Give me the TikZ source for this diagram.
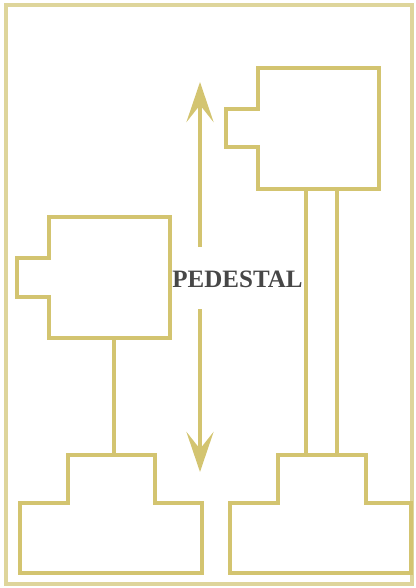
\documentclass[tikz,border=0pt]{standalone}
\usepackage{fontspec}
\setmainfont{Liberation Serif}
\usetikzlibrary{arrows.meta}

\definecolor{gold}{RGB}{211,196,112}
\definecolor{framegold}{RGB}{222,213,155}

\begin{document}
\begin{tikzpicture}[
  x=1pt,y=-1pt,
  part/.style={draw=gold,line width=4.8pt,line join=miter},
  outerframe/.style={draw=framegold,line width=3.2pt},
  arr/.style={-{Stealth[length=40pt,width=27pt,inset=17pt]},draw=gold,line width=4.8pt},
  lbl/.style={font=\bfseries\fontsize{25}{25}\selectfont,text=black!72,inner sep=0pt},
]
\useasboundingbox (0,0) rectangle (415,588);
\draw[outerframe] (6,5) rectangle (412,584);

% left machine: head, column, base
\coordinate (lhead) at (49,217);
\draw[part] (lhead) -- ++(121,0) -- ++(0,121) -- ++(-121,0) -- ++(0,-41)
            -- ++(-32,0) -- ++(0,-39) -- ++(32,0) -- cycle;
\coordinate (lcoltop) at (114,338);
\coordinate (lcolbot) at (114,455);
\draw[part] (lcoltop) -- (lcolbot);
\coordinate (lbase) at (20,573);
\draw[part] (lbase) -- ++(0,-70) -- ++(48,0) -- ++(0,-48) -- ++(87,0) -- ++(0,48)
            -- ++(47,0) -- ++(0,70) -- cycle;

% right machine: raised head on a double column
\coordinate (rhead) at (258,68);
\draw[part] (rhead) -- ++(121,0) -- ++(0,121) -- ++(-121,0) -- ++(0,-42)
            -- ++(-32,0) -- ++(0,-38) -- ++(32,0) -- cycle;
\coordinate (rcolAtop) at (306,189);
\coordinate (rcolAbot) at (306,455);
\coordinate (rcolBtop) at (337,189);
\coordinate (rcolBbot) at (337,455);
\draw[part] (rcolAtop) -- (rcolAbot);
\draw[part] (rcolBtop) -- (rcolBbot);
\coordinate (rbase) at (230,573);
\draw[part] (rbase) -- ++(0,-70) -- ++(48,0) -- ++(0,-48) -- ++(88,0) -- ++(0,48)
            -- ++(45,0) -- ++(0,70) -- cycle;

% height difference
\node[lbl] (pedestal) at (237.5,279.5) {PEDESTAL};
\coordinate (uptip) at (200,82);
\coordinate (upend) at (200,247);
\coordinate (downend) at (200,309);
\coordinate (downtip) at (200,472);
\draw[arr] (upend) -- (uptip);
\draw[arr] (downend) -- (downtip);
\end{tikzpicture}
\end{document}
